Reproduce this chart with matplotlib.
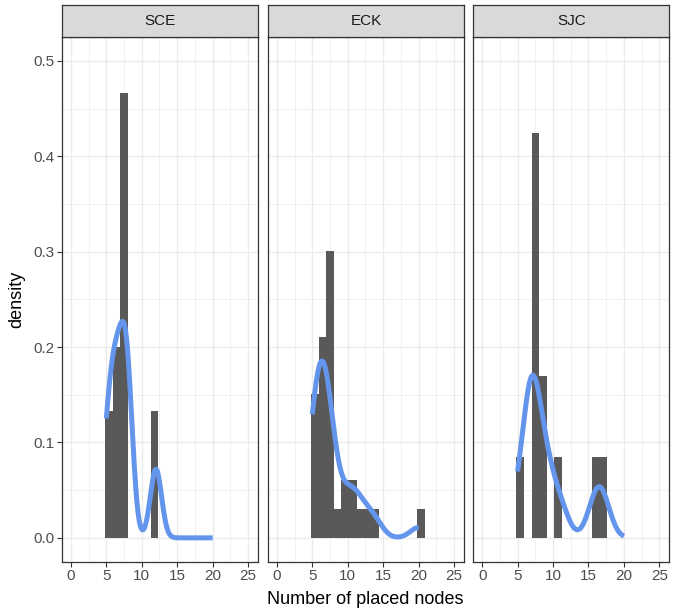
import matplotlib.pyplot as plt
import numpy as np

plt.rcParams['font.family'] = ['Liberation Sans', 'DejaVu Sans']

# number of placed nodes per run (bins of width 15/14)
sites = ['SCE', 'ECK', 'SJC']
sce_nodes = [5, 5, 6, 6, 6, 7, 7, 7, 8, 8, 8, 8, 12, 12]
eck_nodes = [5, 5, 5, 5, 5, 6, 6, 6, 6, 6, 6, 6, 7, 7, 7, 7, 7, 7, 7, 7,
             8, 8, 9, 10, 10, 11, 11, 12, 13, 14, 20]
sjc_nodes = [5, 7, 7, 7, 7, 7, 9, 9, 11, 16, 17]
x_ticks = [0, 5, 10, 15, 20, 25]
y_ticks = [0.0, 0.1, 0.2, 0.3, 0.4, 0.5]

W, H = 683, 612
BAR = '#595959'
LINE = '#6495ED'
DARK = '#333333'
GRID = '#EBEBEB'


def bw_nrd0(x):
    x = np.asarray(x, float)
    q75, q25 = np.percentile(x, [75, 25])
    lo = min(np.std(x, ddof=1), (q75 - q25) / 1.34)
    return 0.9 * lo * len(x) ** -0.2


def kde(x, grid):
    x = np.asarray(x, float)
    h = bw_nrd0(x)
    z = (grid[:, None] - x[None, :]) / h
    return np.exp(-0.5 * z**2).sum(axis=1) / (len(x) * h * np.sqrt(2 * np.pi))


def gg_breaks(lo, hi, bins):
    # same bin placement ggplot uses by default
    width = (hi - lo) / (bins - 1)
    boundary = width / 2
    shift = np.floor((lo - boundary) / width)
    origin = boundary + shift * width
    return origin + width * np.arange(bins + 1)


all_nodes = sce_nodes + eck_nodes + sjc_nodes
lo, hi = min(all_nodes), max(all_nodes)
edges = gg_breaks(lo, hi, 15)
grid = np.linspace(lo, hi, 512)

fig = plt.figure(figsize=(W / 100, H / 100), dpi=100)

lefts = [62, 268, 473.3]
pw = 196
top, bottom = 37, 561.7

for i, (site, nodes) in enumerate(zip(sites, [sce_nodes, eck_nodes, sjc_nodes])):
    ax = fig.add_axes([lefts[i] / W, 1 - bottom / H, pw / W, (bottom - top) / H])
    ax.set_facecolor('white')
    ax.set_axisbelow(True)
    ax.hist(nodes, bins=edges, density=True, color=BAR, zorder=2)
    ax.plot(grid, kde(nodes, grid), color=LINE, lw=3.6, zorder=3,
            solid_capstyle='butt')
    ax.set_xlim(-1.25, 26.4)
    ax.set_ylim(-0.025, 0.525)
    ax.set_xticks(x_ticks)
    ax.set_xticks(np.arange(2.5, 26, 5), minor=True)
    ax.set_yticks(y_ticks)
    ax.set_yticks(np.arange(0.05, 0.52, 0.1), minor=True)
    ax.grid(which='major', color=GRID, lw=1.0)
    ax.grid(which='minor', color=GRID, lw=0.5)
    ax.tick_params(which='major', length=3.5, width=0.8, color=DARK,
                   labelsize=11, labelcolor='#4D4D4D', pad=2)
    ax.tick_params(which='minor', length=0)
    ax.set_xticklabels([str(t) for t in x_ticks])
    if i == 0:
        ax.set_yticklabels(['%.1f' % t for t in y_ticks])
        ax.set_ylabel('density', fontsize=13, labelpad=6)
    else:
        ax.tick_params(axis='y', which='both', left=False, labelleft=False)
    for s in ax.spines.values():
        s.set_color(DARK)
        s.set_linewidth(0.9)

    st = fig.add_axes([lefts[i] / W, 1 - top / H, pw / W, 31.7 / H])
    st.set_facecolor('#D9D9D9')
    st.set_xticks([])
    st.set_yticks([])
    for s in st.spines.values():
        s.set_color(DARK)
        s.set_linewidth(0.9)
    st.text(0.5, 0.5, site, ha='center', va='center', fontsize=11,
            color='#1A1A1A', transform=st.transAxes)

fig.text((62 + 669) / 2 / W, 1 - 599 / H, 'Number of placed nodes',
         ha='center', va='center', fontsize=13)

fig.savefig('out.png', dpi=100, facecolor='white')
